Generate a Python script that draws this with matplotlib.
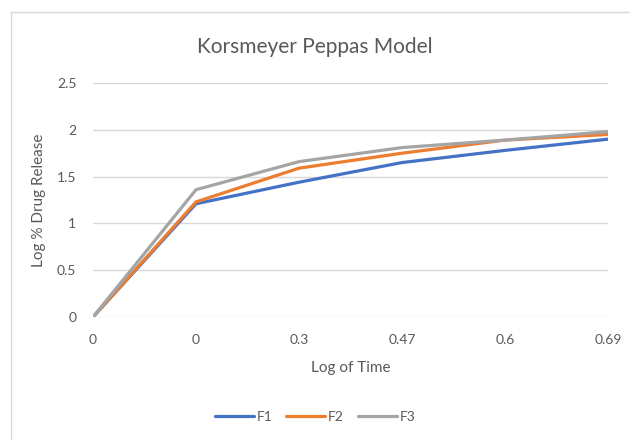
import matplotlib.pyplot as plt
from matplotlib.lines import Line2D

# categorical x labels (as shown on the axis)
time_labels = ["0", "0", "0.3", "0.47", "0.6", "0.69"]
f1 = [0.0, 1.21, 1.44, 1.65, 1.78, 1.90]
f2 = [0.0, 1.23, 1.59, 1.75, 1.89, 1.95]
f3 = [0.0, 1.36, 1.66, 1.81, 1.89, 1.98]

series = {"F1": (f1, "#4472C4"), "F2": (f2, "#ED7D31"), "F3": (f3, "#A5A5A5")}

plt.rcParams["font.family"] = ["Lato", "DejaVu Sans"]
txt = "#595959"

fig = plt.figure(figsize=(6.3, 4.4), dpi=100)
ax = fig.add_axes([93 / 630, 1 - 317 / 440, 515 / 630, 234 / 440])

x = list(range(len(time_labels)))
for name, (vals, col) in series.items():
    ax.plot(x, vals, color=col, lw=2.3, label=name, solid_capstyle="round")

ax.set_xlim(0, len(time_labels) - 1)
ax.set_ylim(0, 2.5)
ax.set_yticks([0, 0.5, 1, 1.5, 2, 2.5])
ax.set_yticklabels(["0", "0.5", "1", "1.5", "2", "2.5"])
ax.set_xticks(x)
ax.set_xticklabels(time_labels)
ax.tick_params(axis="y", length=0, colors=txt, labelsize=10, pad=12)
ax.tick_params(axis="x", length=0, colors=txt, labelsize=10, pad=12)
ax.grid(axis="y", color="#D9D9D9", lw=1)
ax.set_axisbelow(True)
for s in ax.spines.values():
    s.set_visible(False)

ax.set_xlabel("Log of Time", color=txt, fontsize=11, labelpad=11)
ax.set_ylabel("Log % Drug Release", color=txt, fontsize=11, labelpad=8)
fig.text(0.5, 1 - 47 / 440, "Korsmeyer Peppas Model", ha="center", va="center",
         color=txt, fontsize=15)

fig.legend(loc="center", bbox_to_anchor=(0.5, 1 - 417 / 440), ncol=3, frameon=False,
           fontsize=10, labelcolor=txt, handlelength=2.8, handletextpad=0.2,
           columnspacing=1.0)

# chart frame (only top and left edges fall inside the image)
frame_top = 1 - 12.5 / 440
frame_left = 10.5 / 630
fig.add_artist(Line2D([frame_left, 1], [frame_top, frame_top], transform=fig.transFigure,
                      color="#D9D9D9", lw=1))
fig.add_artist(Line2D([frame_left, frame_left], [0, frame_top], transform=fig.transFigure,
                      color="#D9D9D9", lw=1))

fig.savefig("out.png", dpi=100)
